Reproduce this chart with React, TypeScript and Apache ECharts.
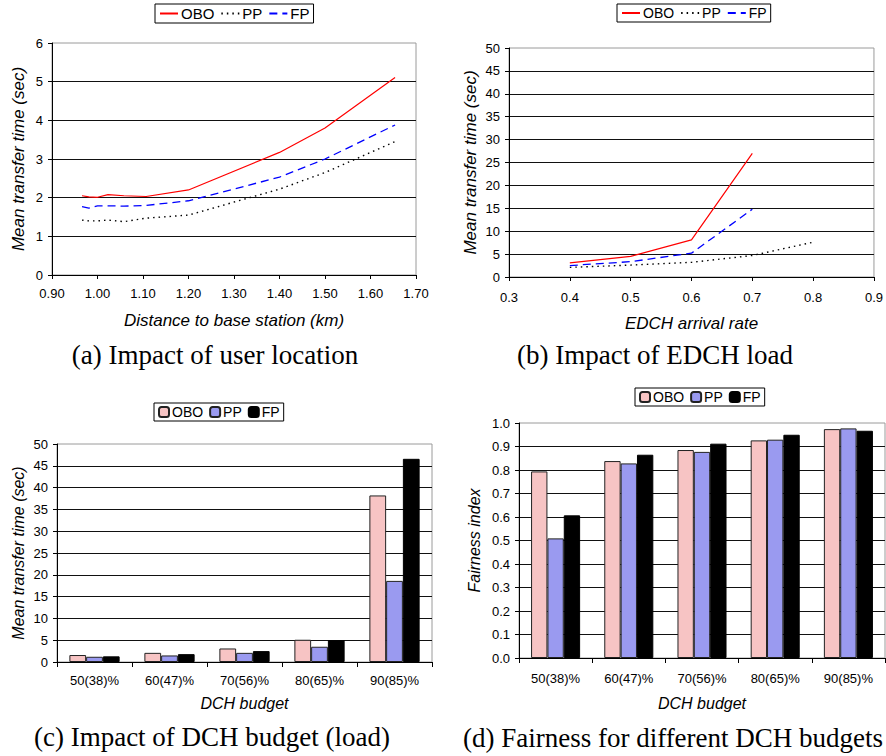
import React, { useEffect, useRef } from "react";
import * as echarts from "echarts";

// (a) Impact of user location
const distKm = [0.966, 0.981, 1.0, 1.023, 1.058, 1.107, 1.2, 1.4, 1.5, 1.654];
const distOBO = [2.05, 2.02, 2.01, 2.08, 2.05, 2.03, 2.2, 3.17, 3.8, 5.11];
const distPP = [1.42, 1.4, 1.4, 1.42, 1.38, 1.47, 1.55, 2.22, 2.65, 3.45];
const distFP = [1.77, 1.73, 1.79, 1.79, 1.78, 1.8, 1.92, 2.53, 3.0, 3.88];

// (b) Impact of EDCH load
const edchRate = [0.4, 0.5, 0.6, 0.7, 0.8];
const edchOBO = [3.1, 4.5, 8.1, 27.0];
const edchPP = [2.1, 2.6, 3.2, 4.7, 7.6];
const edchFP = [2.5, 3.35, 5.2, 14.8];

// (c) Impact of DCH budget (load)
const budgets = ["50(38)%", "60(47)%", "70(56)%", "80(65)%", "90(85)%"];
const loadOBO = [1.6, 2.1, 3.1, 5.1, 38.2];
const loadPP = [1.2, 1.5, 2.1, 3.5, 18.6];
const loadFP = [1.3, 1.8, 2.5, 5.0, 46.6];

// (d) Fairness for different DCH budgets
const fairOBO = [0.794, 0.838, 0.885, 0.926, 0.974];
const fairPP = [0.509, 0.828, 0.877, 0.929, 0.977];
const fairFP = [0.607, 0.865, 0.912, 0.95, 0.967];

const captions = [
  "(a) Impact of user location",
  "(b) Impact of EDCH load",
  "(c) Impact of DCH budget (load)",
  "(d) Fairness for different DCH budgets",
];

const SANS = "Liberation Sans, Arial, sans-serif";
const SERIF = "Liberation Serif, Times New Roman, serif";

const zip = (xs: number[], ys: number[]) => ys.map((y, i) => [xs[i], y]);

const lineStyles: Record<string, any> = {
  OBO: { color: "#ff0000", width: 1.2, type: "solid" },
  PP: { color: "#000000", width: 1.4, type: [1.5, 4] },
  FP: { color: "#0000ff", width: 1.3, type: [8, 5] },
};
const barStyles: Record<string, any> = {
  OBO: { color: "#f7c4c4", borderColor: "#222", borderWidth: 1 },
  PP: { color: "#9a9af0", borderColor: "#222", borderWidth: 1 },
  FP: { color: "#000000", borderColor: "#000", borderWidth: 1 },
};

const tickLabel = { fontFamily: SANS, fontSize: 13, color: "#000" };
const nameStyle = (size: number) => ({
  fontFamily: SANS,
  fontSize: size,
  fontStyle: "italic",
  color: "#000",
});
const axisLine = { show: true, lineStyle: { color: "#000", width: 1 } };
const splitLine = {
  show: true,
  showMinLine: false,
  showMaxLine: false,
  lineStyle: { color: "#111", width: 1 },
};

function lineSeries(name: string, idx: number, data: number[][]) {
  return {
    type: "line",
    name,
    xAxisIndex: idx,
    yAxisIndex: idx,
    data,
    symbol: "none",
    showSymbol: false,
    lineStyle: lineStyles[name],
    itemStyle: { color: lineStyles[name].color },
  };
}

function barSeries(name: string, idx: number, data: number[]) {
  return {
    type: "bar",
    name: name + "_bar",
    xAxisIndex: idx,
    yAxisIndex: idx,
    data,
    barGap: "0%",
    barCategoryGap: "33%",
    itemStyle: barStyles[name],
  };
}

function legend(left: number, top: number, names: string[], fontSize: number, isBar: boolean) {
  const base: any = {
    left,
    top,
    orient: "horizontal",
    data: names,
    formatter: (n: string) => n.replace("_bar", ""),
    backgroundColor: "#fff",
    borderColor: "#000",
    borderWidth: 1,
    borderRadius: 0,
    padding: [2, 4, 2, 4],
    itemGap: 6,
    itemWidth: isBar ? 10 : 18,
    itemHeight: isBar ? 10 : 14,
    textStyle: { fontFamily: SANS, fontSize, color: "#000", padding: [0, 0, 0, -2] },
    selectedMode: false,
  };
  if (!isBar) {
    base.itemStyle = { color: "rgba(0,0,0,0)", borderColor: "rgba(0,0,0,0)", borderWidth: 0 };
  }
  return base;
}

export default function App() {
  const ref = useRef<HTMLDivElement>(null);
  useEffect(() => {
    if (!ref.current) return;
    const chart = echarts.init(ref.current, null, { renderer: "svg" });
    const gridBase = { show: true, borderColor: "#9a9a9a", borderWidth: 1, backgroundColor: "#fff" };
    const option: any = {
      animation: false,
      backgroundColor: "#fff",
      grid: [
        { ...gridBase, left: 52, top: 43, width: 364, height: 232 },
        { ...gridBase, left: 509, top: 48, width: 365, height: 229 },
        { ...gridBase, left: 57, top: 444, width: 375, height: 218 },
        { ...gridBase, left: 519, top: 423, width: 366, height: 235 },
      ],
      legend: [
        legend(155, 4, ["OBO", "PP", "FP"], 15, false),
        legend(617, 4, ["OBO", "PP", "FP"], 14, false),
        legend(154, 403, ["OBO_bar", "PP_bar", "FP_bar"], 14, true),
        legend(635, 388, ["OBO_bar", "PP_bar", "FP_bar"], 14, true),
      ],
      xAxis: [
        {
          type: "value",
          gridIndex: 0,
          min: 0.9,
          max: 1.7,
          interval: 0.1,
          name: "Distance to base station (km)",
          nameLocation: "middle",
          nameGap: 37,
          nameTextStyle: nameStyle(17),
          axisLine,
          axisTick: { show: true, length: 4, lineStyle: { color: "#000" } },
          axisLabel: { ...tickLabel, margin: 12, formatter: (v: number) => v.toFixed(2) },
          splitLine: { show: false },
        },
        {
          type: "value",
          gridIndex: 1,
          min: 0.3,
          max: 0.9,
          interval: 0.1,
          name: "EDCH arrival rate",
          nameLocation: "middle",
          nameGap: 38,
          nameTextStyle: nameStyle(17),
          axisLine,
          axisTick: { show: true, length: 4, lineStyle: { color: "#000" } },
          axisLabel: { ...tickLabel, margin: 14, formatter: (v: number) => v.toFixed(1) },
          splitLine: { show: false },
        },
        {
          type: "category",
          gridIndex: 2,
          data: budgets,
          name: "DCH budget",
          nameLocation: "middle",
          nameGap: 33,
          nameTextStyle: nameStyle(16),
          axisLine,
          axisTick: { show: true, length: 5, lineStyle: { color: "#000" } },
          axisLabel: { ...tickLabel, margin: 12, interval: 0 },
        },
        {
          type: "category",
          gridIndex: 3,
          data: budgets,
          name: "DCH budget",
          nameLocation: "middle",
          nameGap: 37,
          nameTextStyle: nameStyle(16),
          axisLine,
          axisTick: { show: true, length: 5, lineStyle: { color: "#000" } },
          axisLabel: { ...tickLabel, margin: 14, interval: 0 },
        },
      ],
      yAxis: [
        {
          type: "value",
          gridIndex: 0,
          min: 0,
          max: 6,
          interval: 1,
          name: "Mean transfer time (sec)",
          nameLocation: "middle",
          nameGap: 25,
          nameTextStyle: nameStyle(17),
          axisLine,
          axisTick: { show: true, length: 4, lineStyle: { color: "#000" } },
          axisLabel: { ...tickLabel, margin: 9 },
          splitLine,
        },
        {
          type: "value",
          gridIndex: 1,
          min: 0,
          max: 50,
          interval: 5,
          name: "Mean transfer time (sec)",
          nameLocation: "middle",
          nameGap: 30,
          nameTextStyle: nameStyle(17),
          axisLine,
          axisTick: { show: true, length: 4, lineStyle: { color: "#000" } },
          axisLabel: { ...tickLabel, margin: 9 },
          splitLine,
        },
        {
          type: "value",
          gridIndex: 2,
          min: 0,
          max: 50,
          interval: 5,
          name: "Mean transfer time (sec)",
          nameLocation: "middle",
          nameGap: 31,
          nameTextStyle: nameStyle(16),
          axisLine,
          axisTick: { show: true, length: 4, lineStyle: { color: "#000" } },
          axisLabel: { ...tickLabel, margin: 9 },
          splitLine,
        },
        {
          type: "value",
          gridIndex: 3,
          min: 0,
          max: 1,
          interval: 0.1,
          name: "Fairness index",
          nameLocation: "middle",
          nameGap: 37,
          nameTextStyle: nameStyle(16),
          axisLine,
          axisTick: { show: true, length: 4, lineStyle: { color: "#000" } },
          axisLabel: { ...tickLabel, margin: 9, formatter: (v: number) => v.toFixed(1) },
          splitLine,
        },
      ],
      series: [
        lineSeries("OBO", 0, zip(distKm, distOBO)),
        lineSeries("PP", 0, zip(distKm, distPP)),
        lineSeries("FP", 0, zip(distKm, distFP)),
        lineSeries("OBO", 1, zip(edchRate, edchOBO)),
        lineSeries("PP", 1, zip(edchRate, edchPP)),
        lineSeries("FP", 1, zip(edchRate, edchFP)),
        barSeries("OBO", 2, loadOBO),
        barSeries("PP", 2, loadPP),
        barSeries("FP", 2, loadFP),
        barSeries("OBO", 3, fairOBO),
        barSeries("PP", 3, fairPP),
        barSeries("FP", 3, fairFP),
      ],
      graphic: [
        { pos: [215, 355] },
        { pos: [655, 355] },
        { pos: [212, 737] },
        { pos: [673, 738] },
      ].map((g, i) => ({
        type: "text",
        x: g.pos[0],
        y: g.pos[1],
        style: {
          text: captions[i],
          textAlign: "center",
          textVerticalAlign: "middle",
          font: "27px " + SERIF,
          fill: "#000",
        },
      })),
    };
    chart.setOption(option);
    return () => chart.dispose();
  }, []);
  return (
    <div
      ref={ref}
      style={{ position: "fixed", left: 0, top: 0, width: 886, height: 756, background: "#fff" }}
    />
  );
}
